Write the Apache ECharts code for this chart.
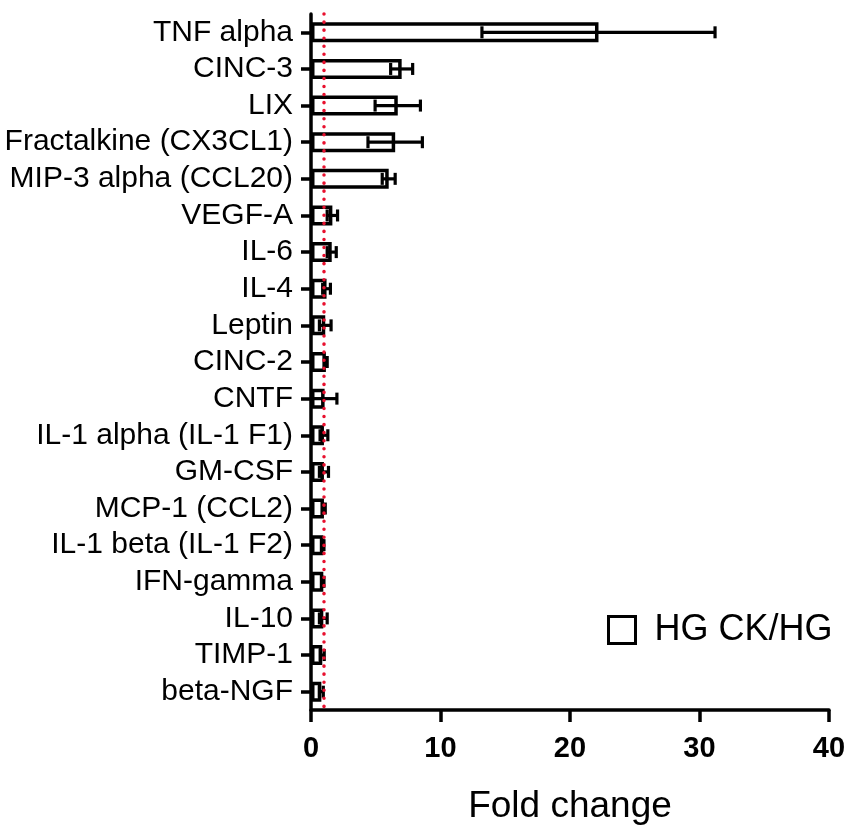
<!DOCTYPE html>
<html>
<head>
<meta charset="utf-8">
<script src="https://cdn.jsdelivr.net/npm/echarts@6/dist/echarts.min.js"></script>
<style>
  html, body { margin: 0; padding: 0; background: #fff; }
  #container { width: 850px; height: 826px; }
</style>
</head>
<body>
<div id="container"></div>
<script>
var dom = document.getElementById("container");
var chart = echarts.init(dom);

// cytokines, top to bottom
const categories = [
    "TNF alpha", "CINC-3", "LIX", "Fractalkine (CX3CL1)", "MIP-3 alpha (CCL20)",
    "VEGF-A", "IL-6", "IL-4", "Leptin", "CINC-2", "CNTF", "IL-1 alpha (IL-1 F1)",
    "GM-CSF", "MCP-1 (CCL2)", "IL-1 beta (IL-1 F2)", "IFN-gamma", "IL-10",
    "TIMP-1", "beta-NGF"
];
// fold change HG CK/HG
const foldChange = [22.2, 7.0, 6.7, 6.5, 6.0, 1.65, 1.6, 1.2, 1.1, 1.15, 1.05, 1.0,
    1.0, 1.0, 0.95, 0.95, 0.95, 0.87, 0.8];
// error (+/-)
const errors = [9.0, 0.85, 1.75, 2.1, 0.5, 0.4, 0.35, 0.3, 0.45, 0.1, 0.95, 0.3,
    0.35, 0.1, 0.05, 0.05, 0.3, 0.15, 0.15];
const xTicks = [0, 10, 20, 30, 40];
const seriesName = "HG CK/HG";

const font = "'Liberation Sans', Arial, sans-serif";

const errData = foldChange.map(function (v, i) {
    return [v, i, errors[i]];
});

var option = {
    animation: false,
    grid: {
        left: 311,
        right: 21,
        top: 14,
        bottom: 116,
        outerBoundsMode: "none",
    },
    legend: {
        data: [seriesName],
        left: 602,
        top: 607,
        icon: "rect",
        itemWidth: 27,
        itemHeight: 27,
        itemStyle: {
            color: "#fff",
            borderColor: "#000",
            borderWidth: 3,
        },
        textStyle: {
            fontFamily: font,
            fontSize: 36,
            color: "#000",
            padding: [0, 0, 0, 14],
        },
    },
    xAxis: {
        type: "value",
        min: xTicks[0],
        max: xTicks[xTicks.length - 1],
        interval: 10,
        name: "Fold change",
        nameLocation: "middle",
        nameGap: 78,
        nameTextStyle: {
            fontFamily: font,
            fontSize: 37,
            color: "#000",
        },
        axisLine: { show: true, lineStyle: { color: "#000", width: 3.5 } },
        axisTick: { show: true, length: 12, lineStyle: { color: "#000", width: 3.5 } },
        axisLabel: {
            fontFamily: font,
            fontSize: 29,
            fontWeight: "bold",
            color: "#000",
            margin: 24,
        },
        splitLine: { show: false },
    },
    yAxis: {
        type: "category",
        inverse: true,
        data: categories,
        axisLine: { show: true, lineStyle: { color: "#000", width: 3.5 } },
        axisTick: { show: true, alignWithLabel: true, length: 10, lineStyle: { color: "#000", width: 3.5 } },
        axisLabel: {
            fontFamily: font,
            fontSize: 30,
            color: "#000",
            margin: 18,
            interval: 0,
        },
    },
    series: [
        {
            name: seriesName,
            type: "bar",
            data: foldChange,
            barWidth: 20,
            itemStyle: {
                color: "#fff",
                borderColor: "#000",
                borderWidth: 3.5,
            },
            markLine: {
                silent: true,
                symbol: "none",
                label: { show: false },
                lineStyle: {
                    color: "#e8102e",
                    width: 3.5,
                    type: [0.1, 7.95],
                    cap: "round",
                },
                data: [{ xAxis: 1 }],
                z: 10,
            },
        },
        {
            name: "error",
            type: "custom",
            data: errData,
            encode: { x: 0, y: 1 },
            z: 5,
            renderItem: function (params, api) {
                var v = api.value(0);
                var c = api.value(1);
                var e = api.value(2);
                var lo = api.coord([v - e, c]);
                var hi = api.coord([v + e, c]);
                var half = 6;
                var style = { stroke: "#000", lineWidth: 3.2 };
                return {
                    type: "group",
                    children: [
                        { type: "line", shape: { x1: lo[0], y1: lo[1], x2: hi[0], y2: hi[1] }, style: style },
                        { type: "line", shape: { x1: lo[0], y1: lo[1] - half, x2: lo[0], y2: lo[1] + half }, style: style },
                        { type: "line", shape: { x1: hi[0], y1: hi[1] - half, x2: hi[0], y2: hi[1] + half }, style: style },
                    ],
                };
            },
        },
    ],
};

chart.setOption(option);
</script>
</body>
</html>
